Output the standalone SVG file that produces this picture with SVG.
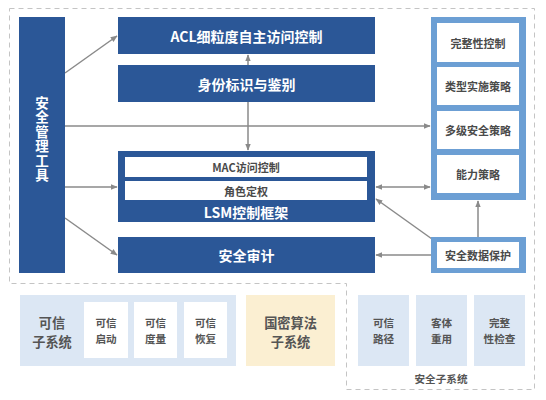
<svg xmlns="http://www.w3.org/2000/svg" width="546" height="400" viewBox="0 0 546 400">
<defs>
<marker id="ah" viewBox="0 0 10 10" refX="9" refY="5" markerWidth="7" markerHeight="7" orient="auto-start-reverse" markerUnits="userSpaceOnUse">
<path d="M0,1 L10,5 L0,9 Z" fill="#8a8a8a"/>
</marker>
<style>
text{font-family:"Noto Sans CJK SC","Noto Sans",sans-serif;font-weight:700;text-anchor:middle;dominant-baseline:central}
.dk{fill:#2b5797}
.lb{fill:#6c9fd4}
.wh{fill:#ffffff}
.pl{fill:#dce7f4}
.tw{fill:#ffffff;font-size:14px}
.tv{fill:#ffffff;font-size:13.5px;writing-mode:vertical-rl;letter-spacing:1px}
.tg{fill:#4a4a4a;font-size:11px}
.tb{fill:#555555;font-size:13.2px}
.ts{fill:#555555;font-size:10.6px}
.cn{stroke:#8a8a8a;stroke-width:1.5;fill:none}
.dash{fill:none;stroke:#c4c4c4;stroke-width:1;stroke-dasharray:5 4}
</style>
</defs>
<rect width="546" height="400" fill="#ffffff"/>
<path class="dash" d="M9.5,8.5 H534.5 V389.5 H346.5 V283.5 H9.5 Z"/>

<g id="connectors">
<line class="cn" x1="65" y1="73" x2="117" y2="36" marker-end="url(#ah)"/>
<line class="cn" x1="248" y1="65" x2="248" y2="55" marker-end="url(#ah)"/>
<line class="cn" x1="248" y1="102" x2="248" y2="150" marker-end="url(#ah)"/>
<line class="cn" x1="65" y1="126" x2="430" y2="126" marker-end="url(#ah)"/>
<line class="cn" x1="65" y1="187" x2="117" y2="187" marker-end="url(#ah)"/>
<line class="cn" x1="65" y1="218" x2="117" y2="255" marker-end="url(#ah)"/>
<line class="cn" x1="376" y1="187" x2="430" y2="187" marker-start="url(#ah)" marker-end="url(#ah)"/>
<line class="cn" x1="432" y1="239" x2="376" y2="199" marker-end="url(#ah)"/>
<line class="cn" x1="431" y1="255" x2="376" y2="255" marker-end="url(#ah)"/>
<line class="cn" x1="478" y1="237" x2="478" y2="201" marker-end="url(#ah)"/>
</g>

<g id="tool">
<rect class="dk" x="19" y="17" width="46" height="256"/>
<text class="tv" x="42" y="139.5">安全管理工具</text>
</g>

<g id="acl">
<rect class="dk" x="118" y="17" width="257" height="37"/>
<text class="tw" x="246.5" y="35.5">ACL细粒度自主访问控制</text>
</g>

<g id="auth">
<rect class="dk" x="118" y="65" width="257" height="37"/>
<text class="tw" x="246.5" y="83.5">身份标识与鉴别</text>
</g>

<g id="lsm">
<rect class="dk" x="118" y="151" width="257" height="71"/>
<rect class="wh" x="125" y="157" width="242" height="20"/>
<rect class="wh" x="125" y="181" width="242" height="19"/>
<text class="tg" x="246" y="167">MAC访问控制</text>
<text class="tg" x="246" y="190.5">角色定权</text>
<text class="tw" x="246" y="212">LSM控制框架</text>
</g>

<g id="audit">
<rect class="dk" x="118" y="237" width="257" height="36"/>
<text class="tw" x="246.5" y="255">安全审计</text>
</g>

<g id="policies">
<rect class="lb" x="431" y="17" width="95" height="183"/>
<rect class="wh" x="437" y="23" width="82" height="39"/>
<rect class="wh" x="437" y="67" width="82" height="38"/>
<rect class="wh" x="437" y="111" width="82" height="38"/>
<rect class="wh" x="437" y="155" width="82" height="38"/>
<text class="tg" x="478" y="42.5">完整性控制</text>
<text class="tg" x="478" y="86">类型实施策略</text>
<text class="tg" x="478" y="130">多级安全策略</text>
<text class="tg" x="478" y="174">能力策略</text>
</g>

<g id="dataprot">
<rect class="lb" x="431" y="237" width="95" height="36"/>
<rect class="wh" x="437" y="242" width="82" height="26"/>
<text class="tg" x="478" y="255">安全数据保护</text>
</g>

<g id="trusted">
<rect class="pl" x="20" y="295" width="216" height="71"/>
<text class="tb"><tspan x="52" y="321.5">可信</tspan><tspan x="52" y="340.8">子系统</tspan></text>
<rect class="wh" x="84" y="302" width="44" height="56"/>
<rect class="wh" x="134" y="302" width="43" height="56"/>
<rect class="wh" x="184" y="302" width="43" height="56"/>
<text class="ts"><tspan x="106" y="322.2">可信</tspan><tspan x="106" y="337.8">启动</tspan></text>
<text class="ts"><tspan x="155.5" y="322.2">可信</tspan><tspan x="155.5" y="337.8">度量</tspan></text>
<text class="ts"><tspan x="205.5" y="322.2">可信</tspan><tspan x="205.5" y="337.8">恢复</tspan></text>
</g>

<g id="crypto">
<rect x="246" y="295" width="89" height="71" fill="#fbefd2"/>
<text class="tb"><tspan x="290.5" y="321.8">国密算法</tspan><tspan x="290.5" y="341.1">子系统</tspan></text>
</g>

<g id="secsub">
<rect class="pl" x="358" y="295" width="51" height="71"/>
<rect class="pl" x="416" y="295" width="51" height="71"/>
<rect class="pl" x="474" y="295" width="51" height="71"/>
<text class="ts"><tspan x="383.5" y="322.2">可信</tspan><tspan x="383.5" y="337.8">路径</tspan></text>
<text class="ts"><tspan x="441.5" y="322.2">客体</tspan><tspan x="441.5" y="337.8">重用</tspan></text>
<text class="ts"><tspan x="499.5" y="322.2">完整</tspan><tspan x="499.5" y="337.8">性检查</tspan></text>
<text class="ts" x="441" y="378">安全子系统</text>
</g>
</svg>
